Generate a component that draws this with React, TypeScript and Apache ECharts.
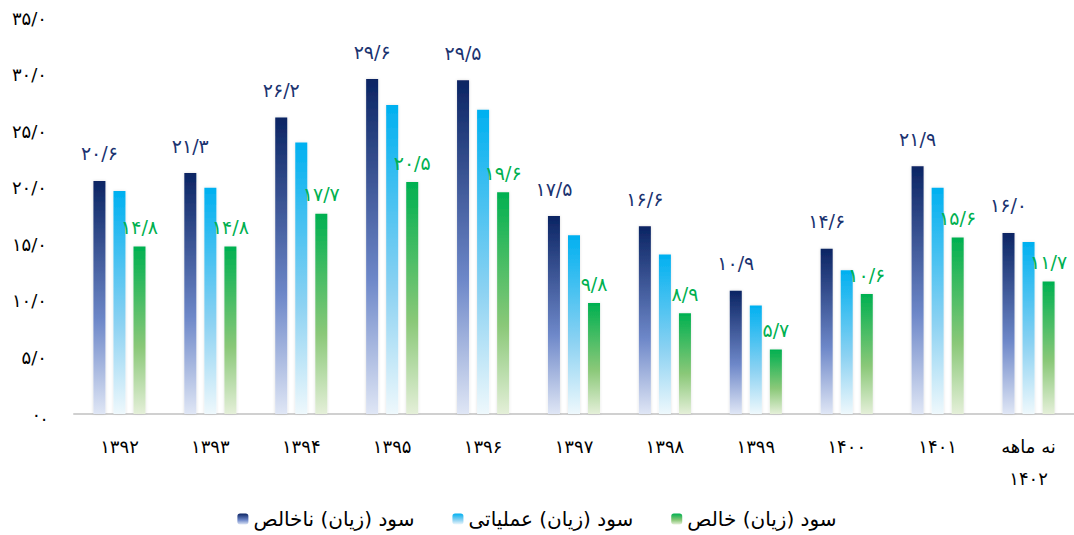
import React, { useEffect, useRef } from "react";
import * as echarts from "echarts";

const categories = ["۱۳۹۲", "۱۳۹۳", "۱۳۹۴", "۱۳۹۵", "۱۳۹۶", "۱۳۹۷", "۱۳۹۸", "۱۳۹۹", "۱۴۰۰", "۱۴۰۱", "نه ماهه\n۱۴۰۲"];
const grossProfit = [20.6, 21.3, 26.2, 29.6, 29.5, 17.5, 16.6, 10.9, 14.6, 21.9, 16.0];
const operatingProfit = [19.7, 20.0, 24.0, 27.3, 26.9, 15.8, 14.1, 9.6, 12.7, 20.0, 15.2];
const netProfit = [14.8, 14.8, 17.7, 20.5, 19.6, 9.8, 8.9, 5.7, 10.6, 15.6, 11.7];
const seriesNames = ["سود (زیان) ناخالص", "سود (زیان) عملیاتی", "سود (زیان) خالص"];

const FA = "۰۱۲۳۴۵۶۷۸۹";
const toFa = (s: string) => s.replace(/[0-9]/g, (d) => FA[+d]).replace(".", "/");
const fmt = (v: number) => (v === 0 ? "۰." : toFa(v.toFixed(1)));

const FONT = "'DejaVu Sans', 'Noto Sans', sans-serif";

const grad = (top: string, mid: string, bottom: string) =>
  new echarts.graphic.LinearGradient(0, 0, 0, 1, [
    { offset: 0, color: top },
    { offset: 0.6, color: mid },
    { offset: 1, color: bottom },
  ]);

export default function App() {
  const ref = useRef<HTMLDivElement>(null);
  useEffect(() => {
    if (!ref.current) return;
    const chart = echarts.init(ref.current, undefined, { renderer: "svg" });
    const darkGrad = grad("#0b2463", "#6e88c9", "#dfe6f5");
    const lightGrad = grad("#00b0f0", "#8dd2f2", "#eef8fc");
    const greenGrad = grad("#00b050", "#8ac878", "#e4efd8");
    const barCommon = {
      type: "bar" as const,
      barWidth: 12,
      barGap: "67%",
    };
    chart.setOption({
      animation: false,
      textStyle: { fontFamily: FONT },
      grid: { left: 74, width: 1007, top: 18, height: 396 },
      legend: {
        bottom: 1,
        left: "center",
        itemWidth: 11,
        itemHeight: 11,
        itemGap: 38,
        textStyle: { fontSize: 20, color: "#000", fontFamily: FONT },
        data: seriesNames,
      },
      xAxis: {
        type: "category",
        data: categories,
        axisLine: { lineStyle: { color: "#d0d0d0", width: 2 } },
        axisTick: { show: false },
        axisLabel: { color: "#000", fontSize: 18, margin: 16, lineHeight: 32, fontFamily: FONT },
      },
      yAxis: {
        type: "value",
        min: 0,
        max: 35,
        interval: 5,
        splitLine: { show: false },
        axisLine: { show: false },
        axisLabel: { color: "#000", fontSize: 18, margin: 27, formatter: fmt, fontFamily: FONT },
      },
      series: [
        {
          ...barCommon,
          name: seriesNames[0],
          data: grossProfit,
          itemStyle: { color: darkGrad, shadowBlur: 3, shadowColor: "rgba(0,0,0,0.15)" },
          label: {
            show: true,
            position: "top",
            distance: 18,
            color: "#1b3370",
            fontSize: 19,
            fontFamily: FONT,
            formatter: (p: any) => fmt(p.value),
          },
        },
        {
          ...barCommon,
          name: seriesNames[1],
          data: operatingProfit,
          itemStyle: { color: lightGrad, shadowBlur: 3, shadowColor: "rgba(0,0,0,0.12)" },
        },
        {
          ...barCommon,
          name: seriesNames[2],
          data: netProfit,
          itemStyle: { color: greenGrad, shadowBlur: 3, shadowColor: "rgba(0,0,0,0.12)" },
          label: {
            show: true,
            position: "top",
            distance: 10,
            color: "#00b050",
            fontSize: 19,
            fontFamily: FONT,
            formatter: (p: any) => fmt(p.value),
          },
        },
      ],
    });
    return () => chart.dispose();
  }, []);
  return (
    <div
      ref={ref}
      style={{ position: "absolute", left: 0, top: 0, width: 1074, height: 535, background: "#fff" }}
    />
  );
}
